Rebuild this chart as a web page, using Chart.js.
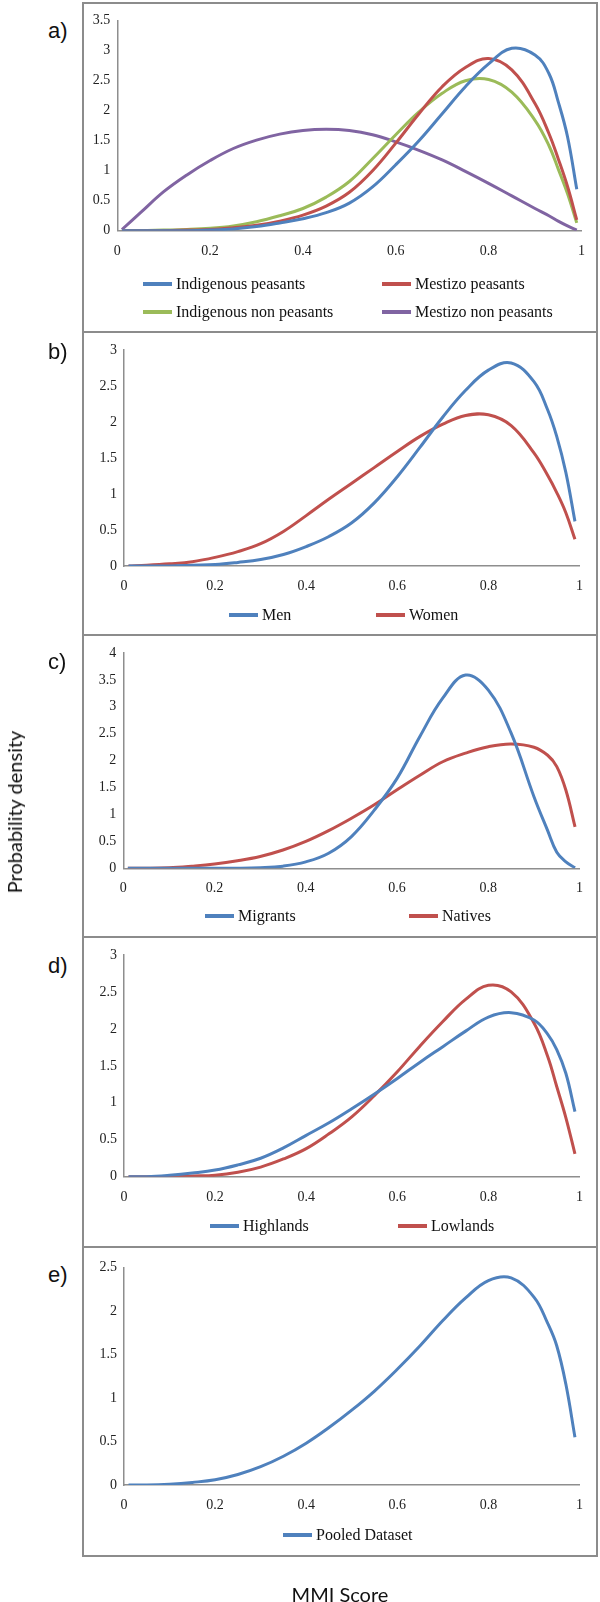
<!DOCTYPE html>
<html>
<head>
<meta charset="utf-8">
<script src="https://cdn.jsdelivr.net/npm/chart.js@4.4.0/dist/chart.umd.min.js"></script>
<style>
  body { margin: 0; background: #fff; width: 600px; height: 1602px; position: relative; overflow: hidden; }
  .box { position: absolute; left: 82px; width: 516px; border: 2px solid #8c8c8c; box-sizing: border-box; }
  .plot { position: absolute; left: 0; width: 600px; }
  .tag { position: absolute; font-family: "Liberation Sans", Arial, sans-serif; font-size: 22px; color: #111; line-height: 1; }
  .leg { position: absolute; font-family: "Liberation Serif", serif; font-size: 16px; color: #111; white-space: nowrap; line-height: 1; }
  .leg i { position: absolute; height: 4px; }
  .ylab, .xlab { position: absolute; font-family: Lato, "Open Sans", sans-serif; font-size: 20px; color: #111; white-space: nowrap; }
  .ylab { left: 14px; top: 812px; transform: translate(-50%, -50%) rotate(-90deg); }
  .xlab { left: 340px; top: 1582px; transform: translateX(-50%); }
</style>
</head>
<body>
<div id="page"></div>
<div class="ylab">Probability density</div>
<div class="xlab">MMI Score</div>
<script>
// MMI score positions where the densities were read
var scores = [0.01, 0.05, 0.1, 0.15, 0.2, 0.25, 0.3, 0.35, 0.4, 0.45, 0.5, 0.55, 0.6, 0.65, 0.7, 0.75, 0.8, 0.85, 0.9, 0.93, 0.95, 0.97, 0.99];

// a) ethnicity / occupation
var indigenousPeasants    = [0, 0, 0, 0, 0.01, 0.03, 0.07, 0.13, 0.2, 0.3, 0.46, 0.73, 1.1, 1.5, 1.95, 2.4, 2.78, 3.04, 2.93, 2.62, 2.15, 1.57, 0.69];
var mestizoPeasants       = [0, 0, 0, 0.01, 0.02, 0.05, 0.09, 0.16, 0.26, 0.41, 0.64, 1.0, 1.46, 1.95, 2.4, 2.72, 2.87, 2.68, 2.12, 1.62, 1.2, 0.74, 0.18];
var indigenousNonPeasants = [0, 0, 0.01, 0.02, 0.04, 0.08, 0.15, 0.25, 0.37, 0.56, 0.82, 1.2, 1.6, 1.98, 2.29, 2.5, 2.52, 2.31, 1.84, 1.42, 1.03, 0.62, 0.13];
var mestizoNonPeasants    = [0.02, 0.3, 0.65, 0.93, 1.17, 1.37, 1.51, 1.61, 1.67, 1.69, 1.67, 1.6, 1.48, 1.34, 1.18, 0.99, 0.79, 0.58, 0.37, 0.25, 0.16, 0.08, 0.01];

// b) gender
var men   = [0, 0, 0, 0.01, 0.02, 0.05, 0.09, 0.16, 0.27, 0.41, 0.6, 0.88, 1.24, 1.65, 2.07, 2.44, 2.72, 2.82, 2.56, 2.17, 1.8, 1.3, 0.62];
var women = [0, 0.01, 0.03, 0.06, 0.12, 0.2, 0.31, 0.48, 0.7, 0.93, 1.15, 1.37, 1.59, 1.8, 1.97, 2.09, 2.1, 1.95, 1.57, 1.26, 1.02, 0.74, 0.37];

// c) migration
var migrants = [0, 0, 0, 0, 0, 0, 0.01, 0.04, 0.12, 0.28, 0.59, 1.08, 1.67, 2.45, 3.16, 3.59, 3.31, 2.51, 1.33, 0.7, 0.3, 0.12, 0.01];
var natives  = [0, 0, 0.01, 0.04, 0.08, 0.14, 0.22, 0.34, 0.5, 0.7, 0.93, 1.18, 1.46, 1.73, 1.98, 2.14, 2.26, 2.31, 2.25, 2.1, 1.89, 1.45, 0.77];

// d) region
var highlands = [0, 0, 0.02, 0.05, 0.09, 0.16, 0.25, 0.39, 0.56, 0.73, 0.92, 1.12, 1.33, 1.55, 1.76, 1.97, 2.16, 2.22, 2.12, 1.93, 1.72, 1.4, 0.88];
var lowlands  = [0, 0, 0, 0.01, 0.02, 0.06, 0.13, 0.24, 0.38, 0.58, 0.81, 1.1, 1.42, 1.77, 2.1, 2.4, 2.59, 2.5, 2.08, 1.63, 1.22, 0.8, 0.31];

// e) everyone
var pooled = [0, 0, 0.01, 0.03, 0.06, 0.12, 0.21, 0.33, 0.48, 0.66, 0.86, 1.08, 1.33, 1.6, 1.89, 2.15, 2.35, 2.38, 2.16, 1.86, 1.6, 1.16, 0.55];

var xTicks  = [0, 0.2, 0.4, 0.6, 0.8, 1];
var yTicksA = [0, 0.5, 1, 1.5, 2, 2.5, 3, 3.5];
var yTicksB = [0, 0.5, 1, 1.5, 2, 2.5, 3];
var yTicksC = [0, 0.5, 1, 1.5, 2, 2.5, 3, 3.5, 4];
var yTicksD = [0, 0.5, 1, 1.5, 2, 2.5, 3];
var yTicksE = [0, 0.5, 1, 1.5, 2, 2.5];

var blue = '#4f81bd', red = '#c0504d', green = '#9bbb59', purple = '#8064a2';

var panels = [
  { tag: 'a)', tagY: 20, top: 2, bottom: 333, left: 117.3, right: 581.4, plotTop: 20.7, plotBottom: 230.7, yTicks: yTicksA,
    series: [
      { label: 'Indigenous peasants', data: indigenousPeasants, color: blue, lx: 143, ly: 284 },
      { label: 'Mestizo peasants', data: mestizoPeasants, color: red, lx: 382, ly: 284 },
      { label: 'Indigenous non peasants', data: indigenousNonPeasants, color: green, lx: 143, ly: 312 },
      { label: 'Mestizo non peasants', data: mestizoNonPeasants, color: purple, lx: 382, ly: 312 }
    ] },
  { tag: 'b)', tagY: 341, top: 331, bottom: 636, left: 124, right: 579.5, plotTop: 350, plotBottom: 566, yTicks: yTicksB,
    series: [
      { label: 'Men', data: men, color: blue, lx: 229, ly: 615 },
      { label: 'Women', data: women, color: red, lx: 376, ly: 615 }
    ] },
  { tag: 'c)', tagY: 651, top: 634, bottom: 938, left: 123.3, right: 579.6, plotTop: 653, plotBottom: 868.3, yTicks: yTicksC,
    series: [
      { label: 'Migrants', data: migrants, color: blue, lx: 205, ly: 916 },
      { label: 'Natives', data: natives, color: red, lx: 409, ly: 916 }
    ] },
  { tag: 'd)', tagY: 955, top: 936, bottom: 1248, left: 124, right: 579.5, plotTop: 955, plotBottom: 1176.7, yTicks: yTicksD,
    series: [
      { label: 'Highlands', data: highlands, color: blue, lx: 210, ly: 1226 },
      { label: 'Lowlands', data: lowlands, color: red, lx: 398, ly: 1226 }
    ] },
  { tag: 'e)', tagY: 1264, top: 1246, bottom: 1557, left: 124, right: 579.5, plotTop: 1267.5, plotBottom: 1485, yTicks: yTicksE,
    series: [
      { label: 'Pooled Dataset', data: pooled, color: blue, lx: 283, ly: 1535 }
    ] }
];

var page = document.getElementById('page');
var tickFont = { family: '"Liberation Serif", "Times New Roman", serif', size: 14 };

function plainNumber(v) {
  return String(Math.round(v * 100) / 100);
}

panels.forEach(function(p) {
  var h = p.bottom - p.top;

  var box = document.createElement('div');
  box.className = 'box';
  box.style.top = p.top + 'px';
  box.style.height = h + 'px';
  page.appendChild(box);

  var tag = document.createElement('div');
  tag.className = 'tag';
  tag.style.left = '48px';
  tag.style.top = p.tagY + 'px';
  tag.textContent = p.tag;
  page.appendChild(tag);

  var wrap = document.createElement('div');
  wrap.className = 'plot';
  wrap.style.top = p.top + 'px';
  wrap.style.height = h + 'px';
  var canvas = document.createElement('canvas');
  wrap.appendChild(canvas);
  page.appendChild(wrap);

  // legend, drawn as html under each panel
  p.series.forEach(function(s) {
    var item = document.createElement('div');
    item.className = 'leg';
    item.style.left = s.lx + 'px';
    item.style.top = (s.ly - 8) + 'px';
    item.style.height = '16px';
    item.innerHTML = '<i style="left:0;top:6px;width:29px;background:' + s.color + '"></i>' +
      '<span style="position:absolute;left:33px;top:0">' + s.label + '</span>';
    page.appendChild(item);
  });

  var axisH = 30;
  new Chart(canvas, {
    type: 'line',
    data: {
      datasets: p.series.map(function(s) {
        return {
          label: s.label,
          data: scores.map(function(x, i) { return { x: x, y: s.data[i] }; }),
          borderColor: s.color,
          backgroundColor: s.color,
          borderWidth: 3,
          pointRadius: 0,
          fill: false,
          tension: 0.4
        };
      })
    },
    options: {
      responsive: true,
      maintainAspectRatio: false,
      animation: false,
      events: [],
      layout: {
        padding: {
          left: 0,
          right: 600 - p.right,
          top: p.plotTop - p.top,
          bottom: h - (p.plotBottom - p.top) - axisH
        }
      },
      plugins: { legend: { display: false }, tooltip: { enabled: false } },
      scales: {
        x: {
          type: 'linear', min: 0, max: 1,
          afterBuildTicks: function(s) { s.ticks = xTicks.map(function(v) { return { value: v }; }); },
          afterFit: function(s) { s.height = axisH; },
          grid: { display: false, drawTicks: false },
          border: { display: true, color: '#8e8e8e', width: 1.5 },
          ticks: { font: tickFont, color: '#222', padding: 12, maxRotation: 0, autoSkip: false, callback: plainNumber }
        },
        y: {
          min: 0, max: p.yTicks[p.yTicks.length - 1],
          afterBuildTicks: function(s) { s.ticks = p.yTicks.map(function(v) { return { value: v }; }); },
          afterFit: function(s) { s.width = p.left; },
          grid: { display: false, drawTicks: false },
          border: { display: true, color: '#8e8e8e', width: 1.5 },
          ticks: { font: tickFont, color: '#222', padding: 7, autoSkip: false, callback: plainNumber }
        }
      }
    }
  });
});
</script>
</body>
</html>
